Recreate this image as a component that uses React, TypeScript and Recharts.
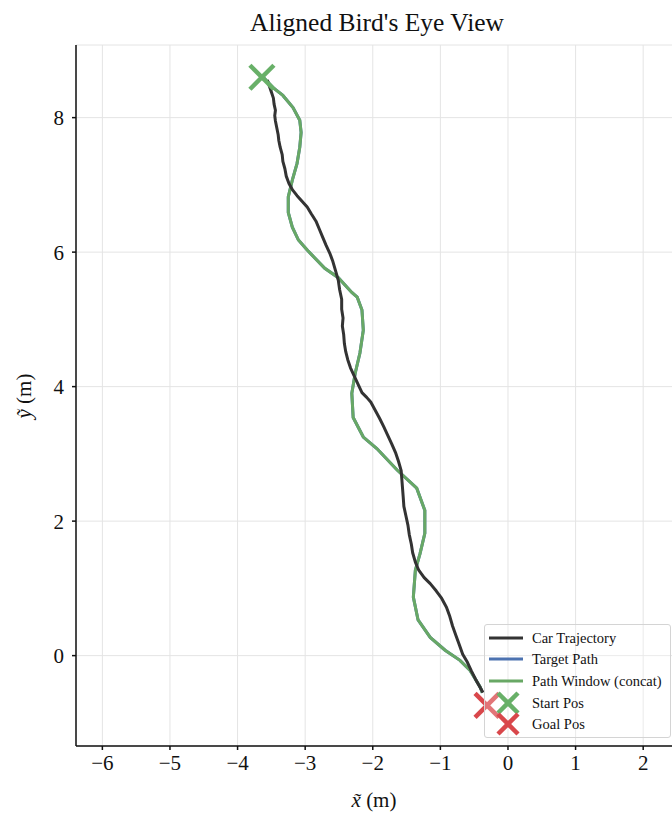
import { ComposedChart, Line, Scatter, XAxis, YAxis, CartesianGrid, Legend } from 'recharts';

const FONT = '"Liberation Serif", "Times New Roman", serif';

// vehicle trajectory in the aligned frame, [x, y] in metres
const carTrajectory: [number, number][] = [
  [-3.56, 8.56], [-3.53, 8.47], [-3.5, 8.38], [-3.47, 8.29], [-3.46, 8.2],
  [-3.44, 8.11], [-3.45, 8.03], [-3.44, 7.95], [-3.42, 7.85], [-3.4, 7.75],
  [-3.39, 7.66], [-3.37, 7.56], [-3.34, 7.45], [-3.33, 7.35], [-3.3, 7.24],
  [-3.28, 7.13], [-3.24, 7.02], [-3.19, 6.93], [-3.12, 6.84], [-3.05, 6.76],
  [-2.97, 6.67], [-2.91, 6.57], [-2.84, 6.46], [-2.79, 6.34], [-2.74, 6.22],
  [-2.69, 6.1], [-2.63, 5.97], [-2.59, 5.86], [-2.55, 5.72], [-2.51, 5.58],
  [-2.49, 5.44], [-2.46, 5.3], [-2.46, 5.15], [-2.44, 5.02], [-2.45, 4.9],
  [-2.43, 4.77], [-2.42, 4.64], [-2.4, 4.52], [-2.37, 4.4], [-2.33, 4.28],
  [-2.27, 4.15], [-2.21, 4.02], [-2.16, 3.91], [-2.09, 3.84], [-2.03, 3.77],
  [-1.97, 3.66], [-1.9, 3.53], [-1.84, 3.41], [-1.78, 3.28], [-1.72, 3.15],
  [-1.66, 3.01], [-1.62, 2.89], [-1.58, 2.75], [-1.57, 2.62], [-1.56, 2.49],
  [-1.55, 2.36], [-1.54, 2.22], [-1.51, 2.08], [-1.48, 1.94], [-1.46, 1.8],
  [-1.43, 1.66], [-1.41, 1.53], [-1.37, 1.39], [-1.32, 1.27], [-1.24, 1.16],
  [-1.15, 1.07], [-1.06, 0.96], [-0.98, 0.85], [-0.91, 0.72], [-0.86, 0.58],
  [-0.82, 0.44], [-0.77, 0.3], [-0.72, 0.16], [-0.67, 0.02], [-0.6, -0.1],
  [-0.54, -0.23], [-0.48, -0.35], [-0.42, -0.46], [-0.37, -0.55],
];

// concatenated path windows
const pathWindow: [number, number][] = [
  [-3.62, 8.6], [-3.48, 8.45], [-3.33, 8.33], [-3.18, 8.15], [-3.08, 7.96],
  [-3.06, 7.78], [-3.08, 7.56], [-3.12, 7.32], [-3.19, 7.07], [-3.25, 6.82],
  [-3.25, 6.59], [-3.19, 6.37], [-3.1, 6.18], [-2.97, 6.03], [-2.71, 5.76],
  [-2.51, 5.62], [-2.31, 5.4], [-2.23, 5.33], [-2.16, 5.14], [-2.14, 4.84],
  [-2.19, 4.5], [-2.26, 4.2], [-2.31, 3.9], [-2.29, 3.54], [-2.14, 3.25],
  [-1.94, 3.08], [-1.64, 2.76], [-1.35, 2.49], [-1.23, 2.16], [-1.23, 1.82],
  [-1.3, 1.52], [-1.37, 1.27], [-1.4, 0.87], [-1.33, 0.53], [-1.15, 0.27],
  [-0.93, 0.08], [-0.71, -0.07], [-0.56, -0.22], [-0.41, -0.47], [-0.38, -0.55],
];

// reference path sits under the window path
const targetPath: [number, number][] = pathWindow;

const startPos: [number, number][] = [[-3.64, 8.6]];
const goalPos: [number, number][] = [[-0.31, -0.74]];

const xTicks = [-6, -5, -4, -3, -2, -1, 0, 1, 2];
const yTicks = [0, 2, 4, 6, 8];

const legendNames = ['Car Trajectory', 'Target Path', 'Path Window (concat)', 'Start Pos', 'Goal Pos'];

const COLORS = {
  car: '#333333',
  target: '#4c72b0',
  window: '#68a865',
  start: '#68b068',
  goal: '#d9474b',
};

const toPoints = (pts: [number, number][]) => pts.map(([x, y]) => ({ x, y }));

const minus = (v: number) => (v < 0 ? `\u2212${Math.abs(v)}` : `${v}`);

const makeCross = (color: string, r = 12) => (props: any) => {
  const { cx, cy } = props;
  return (
    <g>
      <line x1={cx - r} y1={cy - r} x2={cx + r} y2={cy + r} stroke={color} strokeWidth={4.5} />
      <line x1={cx - r} y1={cy + r} x2={cx + r} y2={cy - r} stroke={color} strokeWidth={4.5} />
    </g>
  );
};

const LegendBox = () => {
  const handles = [
    <line x1={0} y1={9} x2={34} y2={9} stroke={COLORS.car} strokeWidth={3} />,
    <line x1={0} y1={9} x2={34} y2={9} stroke={COLORS.target} strokeWidth={3} />,
    <line x1={0} y1={9} x2={34} y2={9} stroke={COLORS.window} strokeWidth={3} />,
    makeCross(COLORS.start, 10)({ cx: 19, cy: 9 }),
    makeCross(COLORS.goal, 10)({ cx: 19, cy: 9 }),
  ];
  const rows = [13, 34, 56, 78, 99];
  return (
    <div
      style={{
        position: 'relative',
        width: 187,
        height: 114,
        boxSizing: 'border-box',
        border: '1px solid #d4d4d4',
        borderRadius: 3,
        background: 'rgba(255,255,255,0.25)',
        fontFamily: FONT,
        fontSize: 14.5,
        color: '#111',
      }}
    >
      {legendNames.map((name, i) => (
        <div key={name} style={{ position: 'absolute', left: 0, top: rows[i] - 9, height: 18, width: 187 }}>
          <svg width={40} height={18} style={{ position: 'absolute', left: 4, top: 0, overflow: 'visible' }}>
            {handles[i]}
          </svg>
          <span style={{ position: 'absolute', left: 47, top: 0, lineHeight: '18px', whiteSpace: 'nowrap' }}>{name}</span>
        </div>
      ))}
    </div>
  );
};

const XLabel = (props: any) => {
  const { viewBox } = props;
  const cx = viewBox.x + viewBox.width / 2;
  return (
    <text x={cx - 3} y={807} textAnchor="middle" fontFamily={FONT} fontSize={21} fill="#111">
      <tspan fontStyle="italic">x&#771;</tspan>
      <tspan> (m)</tspan>
    </text>
  );
};

const YLabel = () => (
  <text x={0} y={0} transform="translate(31, 396) rotate(-90)" textAnchor="middle" fontFamily={FONT} fontSize={21} fill="#111">
    <tspan fontStyle="italic">y&#771;</tspan>
    <tspan> (m)</tspan>
  </text>
);

const tickStyle = { fontFamily: FONT, fontSize: 21, fill: '#111' };

export default function App() {
  return (
    <div style={{ position: 'absolute', left: 0, top: 0, width: 672, height: 816, overflow: 'hidden', background: '#fff' }}>
      <div
        style={{
          position: 'absolute',
          left: 76,
          top: 7,
          width: 602,
          textAlign: 'center',
          fontFamily: FONT,
          fontSize: 25.5,
          lineHeight: '32px',
          color: '#111',
        }}
      >
        Aligned Bird's Eye View
      </div>
      <ComposedChart width={680} height={816} margin={{ top: 45, right: 2, bottom: 0, left: 0 }}>
        <CartesianGrid stroke="#e4e4e4" strokeWidth={1} />
        <XAxis
          type="number"
          dataKey="x"
          domain={[-6.39, 2.515]}
          ticks={xTicks}
          allowDataOverflow
          tickFormatter={minus}
          tick={tickStyle}
          tickSize={4}
          tickMargin={5}
          height={70}
          stroke="#111"
          strokeWidth={1.5}
          label={<XLabel />}
        />
        <XAxis
          xAxisId="top"
          orientation="top"
          type="number"
          domain={[-6.39, 2.515]}
          tick={false}
          tickLine={false}
          height={0}
          stroke="#222"
          strokeWidth={1.5}
        />
        <YAxis
          type="number"
          dataKey="y"
          domain={[-1.344, 9.08]}
          ticks={yTicks}
          allowDataOverflow
          tickFormatter={minus}
          tick={tickStyle}
          tickSize={4}
          tickMargin={8}
          width={76}
          stroke="#111"
          strokeWidth={1.5}
          label={<YLabel />}
        />
        <Line
          data={toPoints(targetPath)}
          dataKey="y"
          type="linear"
          stroke={COLORS.target}
          strokeWidth={3}
          dot={false}
          isAnimationActive={false}
        />
        <Line
          data={toPoints(pathWindow)}
          dataKey="y"
          type="linear"
          stroke={COLORS.window}
          strokeWidth={3}
          dot={false}
          isAnimationActive={false}
        />
        <Line
          data={toPoints(carTrajectory)}
          dataKey="y"
          type="linear"
          stroke={COLORS.car}
          strokeWidth={3}
          strokeLinejoin="round"
          dot={false}
          isAnimationActive={false}
        />
        <Scatter data={toPoints(startPos)} dataKey="y" shape={makeCross(COLORS.start, 12)} isAnimationActive={false} />
        <Scatter data={toPoints(goalPos)} dataKey="y" shape={makeCross(COLORS.goal, 12)} isAnimationActive={false} />
        <Legend
          layout="vertical"
          align="center"
          verticalAlign="middle"
          content={<LegendBox />}
          wrapperStyle={{ left: 484, top: 624, width: 187, height: 114 }}
        />
      </ComposedChart>
    </div>
  );
}
